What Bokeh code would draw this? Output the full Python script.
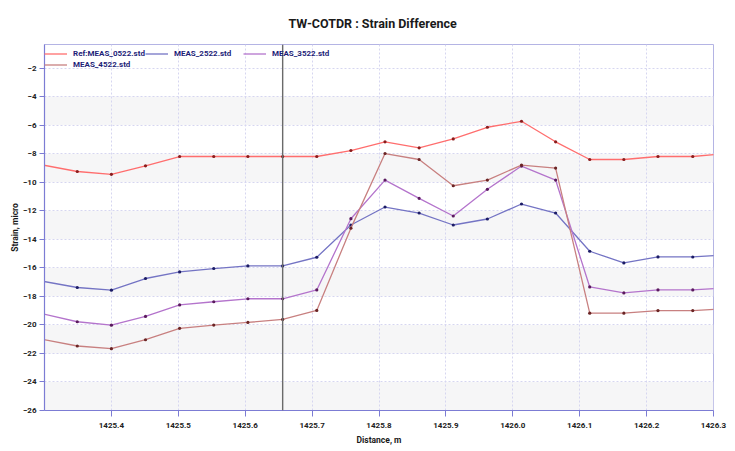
from bokeh.plotting import figure
from bokeh.models import (FixedTicker, PrintfTickFormatter, Span, Legend, LegendItem, Range1d,
                          BoxAnnotation)
from bokeh.embed import file_html
from bokeh.resources import INLINE

# ---- data ----
distance = [1425.298, 1425.349, 1425.400, 1425.451, 1425.502, 1425.553, 1425.604,
            1425.656, 1425.707, 1425.758, 1425.809, 1425.860, 1425.911, 1425.962,
            1426.013, 1426.064, 1426.115, 1426.166, 1426.217, 1426.269, 1426.320]
ref_0522 = [-8.80, -9.25, -9.45, -8.85, -8.20, -8.20, -8.20, -8.20, -8.20, -7.78, -7.17,
            -7.59, -6.97, -6.15, -5.73, -7.17, -8.41, -8.41, -8.20, -8.20, -7.98]
meas_2522 = [-16.95, -17.38, -17.57, -16.75, -16.29, -16.05, -15.87, -15.87, -15.26, -13.00,
             -11.74, -12.16, -13.00, -12.58, -11.53, -12.16, -14.84, -15.66, -15.24, -15.24, -15.08]
meas_3522 = [-19.23, -19.78, -20.02, -19.41, -18.60, -18.38, -18.17, -18.17, -17.55, -12.56,
             -9.85, -11.13, -12.37, -10.50, -8.87, -9.85, -17.34, -17.76, -17.55, -17.55, -17.40]
meas_4522 = [-21.02, -21.48, -21.67, -21.04, -20.24, -20.01, -19.83, -19.62, -18.99, -13.22,
             -7.99, -8.41, -10.25, -9.85, -8.80, -9.01, -19.18, -19.18, -19.00, -19.00, -18.85]

series_names = ["Ref:MEAS_0522.std", "MEAS_2522.std", "MEAS_3522.std", "MEAS_4522.std"]
series_values = [ref_0522, meas_2522, meas_3522, meas_4522]
line_colors = ["#ff6e6e", "#7474c4", "#b474cc", "#c88080"]
dot_colors = ["#8a1c1c", "#1c1c66", "#5a1a5e", "#6a2424"]

x_ticks = [1425.4, 1425.5, 1425.6, 1425.7, 1425.8, 1425.9, 1426.0, 1426.1, 1426.2, 1426.3]
y_ticks = [-2, -4, -6, -8, -10, -12, -14, -16, -18, -20, -22, -24, -26]
cursor_x = 1425.656

FONT = "Roboto"
AXIS_BLUE = "#7c7cd4"

p = figure(width=735, height=451, output_backend="svg", toolbar_location=None,
           x_range=Range1d(1425.3, 1426.3), y_range=Range1d(-26, -0.35),
           min_border_left=44, min_border_right=22, min_border_top=43, min_border_bottom=41,
           background_fill_color="white", border_fill_color="white")

p.title.text = "TW-COTDR : Strain Difference"
p.title.align = "left"
p.title.offset = 244
p.title.text_font = FONT
p.title.text_font_size = "12.5px"
p.title.text_font_style = "bold"
p.title.text_color = "#1a1a1a"
p.title.standoff = 27

p.outline_line_color = "#b4b4e4"
p.outline_line_width = 1

for ax in (p.xaxis[0], p.yaxis[0]):
    ax.axis_line_color = AXIS_BLUE
    ax.axis_line_width = 1.2
    ax.major_tick_line_color = AXIS_BLUE
    ax.major_tick_in = 0
    ax.minor_tick_line_color = None
    ax.major_label_text_font = FONT
    ax.major_label_text_font_size = "8px"
    ax.major_label_text_font_style = "bold"
    ax.major_label_text_color = "#222222"
    ax.axis_label_text_font = FONT
    ax.axis_label_text_font_size = "8.5px"
    ax.axis_label_text_font_style = "bold"
    ax.axis_label_text_color = "#1a1a1a"

p.xaxis.ticker = FixedTicker(ticks=x_ticks)
p.xaxis.formatter = PrintfTickFormatter(format="%.1f")
p.xaxis.major_tick_out = 6
p.xaxis.major_label_standoff = 6
p.xaxis.axis_label = "Distance, m"
p.xaxis.axis_label_standoff = 4

p.yaxis.ticker = FixedTicker(ticks=y_ticks)
p.yaxis.major_tick_out = 5
p.yaxis.major_label_standoff = 3
p.yaxis.axis_label = "Strain, micro"
p.yaxis.axis_label_standoff = 0

p.xgrid.ticker = FixedTicker(ticks=x_ticks)
p.ygrid.ticker = FixedTicker(ticks=y_ticks)
for g in (p.xgrid[0], p.ygrid[0]):
    g.grid_line_color = "#d6d6f0"
    g.grid_line_dash = "2 2"
    g.grid_line_width = 1

# alternating light bands between every other pair of y ticks (-4..-6, -8..-10, ...)
for top, bottom in zip(y_ticks[1::2], y_ticks[2::2]):
    p.add_layout(BoxAnnotation(top=top, bottom=bottom, fill_color="#f6f6f7", fill_alpha=1.0,
                               line_color=None, level="image"))

items = []
for name, vals, lc, dc in zip(series_names, series_values, line_colors, dot_colors):
    r = p.line(distance, vals, line_color=lc, line_width=1.3)
    p.scatter(distance, vals, marker="circle", size=3.2, fill_color=dc, line_color=None)
    items.append(LegendItem(label=name, renderers=[r]))

p.add_layout(Span(location=cursor_x, dimension="height", line_color="#6a6a6a", line_width=1.4))

legend = Legend(items=items, location=(0, 340), orientation="horizontal", ncols=3,
                margin=0, padding=2, spacing=0, glyph_width=23, glyph_height=11,
                label_height=11, label_width=69, label_standoff=6,
                label_text_font=FONT, label_text_font_size="8px",
                label_text_font_style="bold", label_text_color="#1e1e78",
                border_line_color=None, background_fill_alpha=0)
p.add_layout(legend, "center")

open("out.html", "w").write(file_html(p, INLINE))
